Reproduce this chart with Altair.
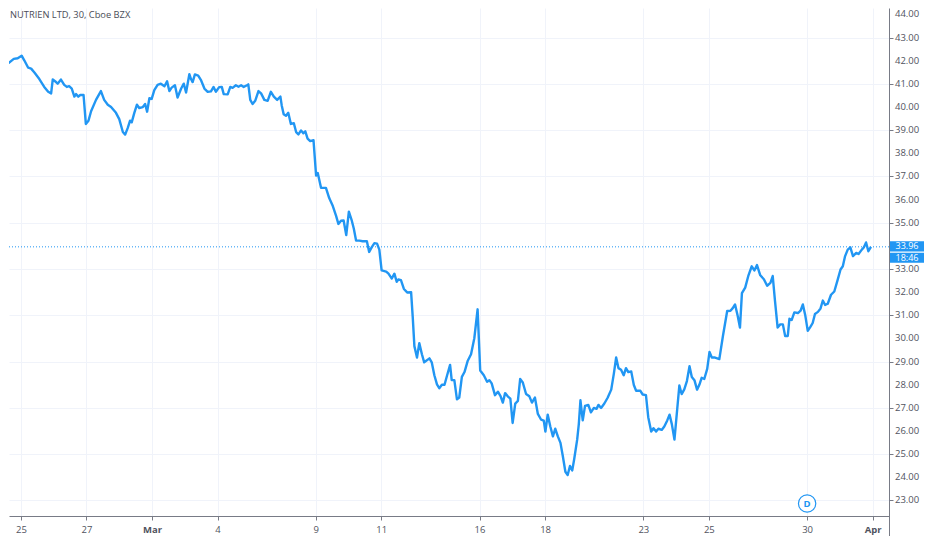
import altair as alt
import pandas as pd

# trading-day index (0 = Feb 25) and price
t = [-0.61,-0.51,-0.37,-0.22,-0.10,0.02,0.10,0.22,0.31,0.41,0.56,0.71,0.83,0.92,0.97,1.07,1.12,1.22,1.32,1.40,
     1.47,1.55,1.63,1.68,1.75,1.81,1.91,1.98,2.06,2.14,2.29,2.44,2.54,2.65,2.75,2.90,3.00,3.11,3.18,3.26,
     3.33,3.38,3.46,3.54,3.61,3.72,3.79,3.85,3.92,3.99,4.07,4.17,4.27,4.38,4.46,4.53,4.60,4.70,4.78,4.89,
     4.97,5.04,5.14,5.19,5.24,5.31,5.41,5.50,5.60,5.70,5.80,5.88,5.95,6.05,6.13,6.19,6.31,6.39,6.46,6.56,
     6.64,6.72,6.80,6.90,6.94,7.00,7.07,7.15,7.25,7.33,7.43,7.53,7.63,7.72,7.82,7.92,7.96,8.02,8.09,8.16,
     8.24,8.33,8.40,8.47,8.55,8.62,8.68,8.75,8.83,8.93,9.01,9.06,9.16,9.31,9.41,9.52,9.62,9.69,9.77,9.85,
     9.93,10.01,10.10,10.16,10.23,10.33,10.43,10.56,10.63,10.71,10.79,10.87,10.94,11.01,11.15,11.22,11.32,11.40,11.47,11.52,
     11.60,11.69,11.79,11.91,11.96,12.01,12.09,12.16,12.24,12.31,12.47,12.54,12.62,12.70,12.77,12.85,12.93,13.01,13.10,13.15,
     13.23,13.31,13.38,13.46,13.54,13.64,13.74,13.84,13.94,14.02,14.13,14.23,14.30,14.37,14.47,14.56,14.64,14.71,14.78,14.86,
     14.94,15.01,15.09,15.17,15.24,15.32,15.42,15.52,15.60,15.69,15.78,15.88,15.96,16.01,16.08,16.16,16.24,16.31,16.39,16.47,
     16.54,16.62,16.69,16.76,16.83,16.89,16.98,17.03,17.08,17.15,17.22,17.32,17.40,17.49,17.57,17.63,17.71,17.81,17.91,18.02,
     18.10,18.17,18.24,18.32,18.40,18.47,18.54,18.63,18.71,18.78,18.91,18.98,19.08,19.15,19.24,19.31,19.39,19.46,19.56,19.64,
     19.73,19.80,19.87,19.95,20.03,20.10,20.17,20.25,20.33,20.41,20.48,20.56,20.64,20.71,20.78,20.86,20.95,21.02,21.09,21.17,
     21.32,21.43,21.56,21.66,21.73,21.80,21.88,21.95,22.01,22.11,22.21,22.31,22.39,22.47,22.57,22.68,22.78,22.88,22.95,23.02,
     23.10,23.18,23.26,23.33,23.41,23.46,23.53,23.61,23.72,23.80,23.87,23.94,24.02,24.10,24.17,24.24,24.33,24.41,24.48,24.55,
     24.63,24.73,24.83,24.93,25.02,25.09,25.16,25.24,25.32,25.40,25.50,25.57,25.67,25.73,25.80,25.87,25.95]
p = [41.80,41.88,41.91,42.08,42.11,42.22,42.02,41.70,41.66,41.49,41.21,40.87,40.66,40.59,41.19,41.08,41.01,41.19,40.96,40.87,
     40.90,40.80,40.45,40.56,40.45,40.52,40.52,39.27,39.41,39.82,40.31,40.69,40.31,40.10,40.00,39.75,39.48,38.92,38.81,39.10,
     39.41,39.34,39.75,40.10,39.96,40.00,40.13,39.80,40.38,40.35,40.73,40.96,41.01,40.90,41.11,40.69,40.84,40.94,40.41,40.80,
     41.01,40.63,41.42,41.21,41.08,41.41,41.36,41.15,40.80,40.66,40.68,40.87,40.66,40.86,40.87,40.56,40.55,40.87,40.83,40.94,
     40.88,40.94,40.87,40.94,40.98,40.31,40.13,40.27,40.69,40.59,40.31,40.27,40.66,40.45,40.31,40.45,40.07,39.69,39.62,39.75,
     39.27,39.30,38.92,38.82,38.99,38.87,38.95,38.64,38.53,38.57,37.04,37.15,36.51,36.51,36.07,35.72,35.30,34.95,35.09,35.10,
     34.47,35.48,35.09,34.75,34.23,34.23,34.20,34.20,33.74,33.95,34.12,34.10,33.84,32.94,32.89,32.80,32.59,32.80,32.45,32.55,
     32.52,32.14,31.99,32.00,30.92,29.67,29.18,29.80,29.32,28.97,29.14,28.97,28.41,28.02,27.85,28.00,28.00,28.41,28.86,28.20,
     28.20,27.37,27.45,28.34,28.55,29.04,29.32,30.01,31.26,28.62,28.41,28.13,28.20,28.06,27.55,27.70,27.51,27.23,27.64,27.50,
     27.40,26.35,27.19,27.30,28.25,28.10,27.60,27.50,27.23,27.45,26.74,26.49,26.45,25.98,26.71,26.20,25.77,26.10,25.77,25.49,
     24.93,24.24,24.10,24.49,24.30,24.79,25.63,26.30,27.33,26.46,27.09,27.13,26.81,27.00,26.96,27.13,27.00,27.19,27.44,27.79,
     28.48,29.18,28.72,28.65,28.41,28.72,28.55,28.58,27.99,27.74,27.74,27.58,27.55,26.60,25.98,26.12,25.98,26.10,26.05,26.20,
     26.46,26.71,26.30,25.63,26.88,27.97,27.60,27.80,28.16,28.80,28.34,28.20,27.79,28.00,28.30,28.25,28.69,29.42,29.18,29.18,
     29.11,30.11,31.19,31.20,31.31,31.47,30.98,30.47,31.96,32.20,32.73,33.12,32.94,33.17,32.73,32.56,32.28,32.40,32.70,31.61,
     30.47,30.61,30.61,30.11,30.11,30.85,30.80,31.13,31.10,31.20,31.47,31.03,30.33,30.50,30.67,31.06,31.15,31.30,31.64,31.45,
     31.50,31.89,32.03,32.52,32.98,33.12,33.56,33.84,33.94,33.56,33.70,33.65,33.84,33.93,34.15,33.77,33.96]

tick_pos = [0, 2, 4, 6, 9, 11, 14, 16, 19, 21, 24, 26]
tick_lab = ["25", "27", "Mar", "4", "9", "11", "16", "18", "23", "25", "30", "Apr"]
month_pos = [4, 26]
y_ticks = list(range(23, 45))
hidden_y = [34]  # covered by the price tag in the reference
y_lab_vals = [v for v in y_ticks if v not in hidden_y]
y_lab_text = [f"{v:.2f}" for v in y_lab_vals]

title_text = "NUTRIEN LTD, 30, Cboe BZX"
last_price = 33.96
tag_vals = [33.98, 33.49]
tag_text = ["33.96", "18:46"]
badge_day = [24]
badge_price = [22.87]
badge_text = ["D"]

BLUE = "#2196f3"
GRID = "#f0f3fa"
TXT = "#50535e"
AX = "#787b86"
FONT = "Open Sans"
FS = 9.5
W, H = 880, 508

df = pd.DataFrame({"t": t, "p": p})

pos_js = "[" + ",".join(str(v) for v in tick_pos) + "]"
lab_js = "[" + ",".join("'" + s + "'" for s in tick_lab) + "]"
mon_js = "[" + ",".join(str(v) for v in month_pos) + "]"

xscale = alt.Scale(domain=[-0.366, 26.50], nice=False, zero=False)
yscale = alt.Scale(domain=[22.33, 44.28], nice=False, zero=False)

xaxis = alt.Axis(
    values=tick_pos, labelExpr=f"indexof({pos_js}, datum.value) >= 0 ? {lab_js}[indexof({pos_js}, datum.value)] : ''",
    title=None, grid=True, gridColor=GRID, gridWidth=1, domainColor=AX, tickColor=AX,
    tickSize=4, labelColor=TXT, labelFont=FONT, labelFontSize=FS, labelPadding=4,
    labelFontWeight=alt.ExprRef(expr=f"indexof({mon_js}, datum.value) >= 0 ? 'bold' : 'normal'"),
    labelFlush=False, labelOverlap=False,
)
yaxis = alt.Axis(
    orient="right", values=y_ticks, title=None, grid=True, gridColor=GRID, gridWidth=1,
    labels=False, domainColor=AX, tickColor=AX, tickSize=4,
)

line = alt.Chart(df).mark_line(color=BLUE, strokeWidth=2.4, clip=True, strokeJoin="round").encode(
    x=alt.X("t:Q", scale=xscale, axis=xaxis),
    y=alt.Y("p:Q", scale=yscale, axis=yaxis),
)

ylab_df = pd.DataFrame({"v": y_lab_vals, "s": y_lab_text})
ylabels = alt.Chart(ylab_df).mark_text(
    align="left", baseline="middle", font=FONT, fontSize=FS, color=TXT, clip=False
).encode(y=alt.Y("v:Q", scale=yscale), x=alt.value(W + 6), text="s:N")

price_rule = alt.Chart(pd.DataFrame({"v": [last_price]})).mark_rule(
    color=BLUE, strokeWidth=1, strokeDash=[1, 2]
).encode(y=alt.Y("v:Q", scale=yscale))

axis_ext = alt.Chart(pd.DataFrame({"v": [0]})).mark_rule(color=AX, strokeWidth=1, clip=False).encode(
    x=alt.value(W + 0.5), y=alt.value(H), y2=alt.value(H + 20)
)

title = alt.Chart(pd.DataFrame({"s": [title_text]})).mark_text(
    align="left", baseline="middle", font=FONT, fontSize=9.3, color="#4a4d57"
).encode(text="s:N", x=alt.value(1), y=alt.value(7))

badge_df = pd.DataFrame({"t": badge_day, "p": badge_price, "s": badge_text})
badge = alt.Chart(badge_df).mark_point(
    shape="circle", size=300, filled=True, fill="white", stroke=BLUE, strokeWidth=1.2, opacity=1
).encode(x=alt.X("t:Q", scale=xscale), y=alt.Y("p:Q", scale=yscale))
badge_txt = alt.Chart(badge_df).mark_text(
    font=FONT, fontSize=FS, fontWeight="bold", color=BLUE, baseline="middle"
).encode(x=alt.X("t:Q", scale=xscale), y=alt.Y("p:Q", scale=yscale), text="s:N")

tag_df = pd.DataFrame({"v": tag_vals, "s": tag_text})
tag_rect = alt.Chart(tag_df).transform_calculate(
    top="datum.v + 0.22", bot="datum.v - 0.22"
).mark_rect(color=BLUE, clip=False).encode(
    y=alt.Y("top:Q", scale=yscale), y2="bot:Q", x=alt.value(W + 1), x2=alt.value(W + 35)
)
tag_txt = alt.Chart(tag_df).mark_text(
    font=FONT, fontSize=9, color="white", baseline="middle", align="center"
).encode(y=alt.Y("v:Q", scale=yscale), x=alt.value(W + 18), text="s:N")

chart = alt.layer(
    line, ylabels, price_rule, axis_ext, title, badge, badge_txt, tag_rect, tag_txt
).properties(
    width=W, height=H, padding=0, background="white"
).configure_view(strokeWidth=0)

chart.save("out.html", embed_options={"renderer": "svg", "actions": False})
